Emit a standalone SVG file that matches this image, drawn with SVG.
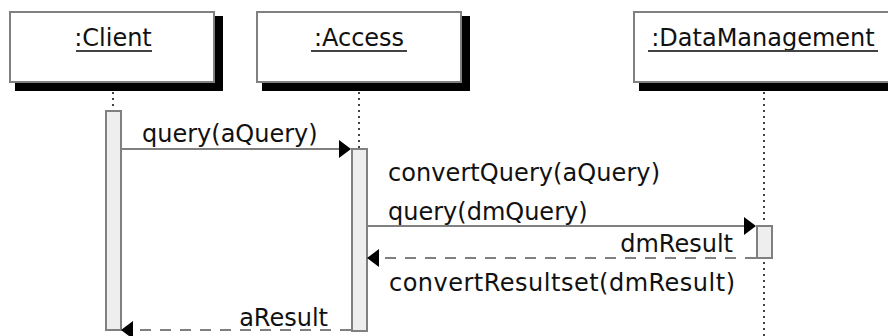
<svg xmlns="http://www.w3.org/2000/svg" width="888" height="336" viewBox="0 0 888 336">
<defs>
<style>
text{font-family:"DejaVu Sans",Verdana,sans-serif;font-size:24px;fill:#111}
.box{fill:#fff;stroke:#808080;stroke-width:2}
.shadow{fill:#000}
.ul{stroke:#444;stroke-width:2}
.life{stroke:#444;stroke-width:2;stroke-dasharray:2 4;fill:none}
.act{fill:#eeeeee;stroke:#808080;stroke-width:2}
.msg{stroke:#808080;stroke-width:2;fill:none}
.ret{stroke:#808080;stroke-width:2;fill:none;stroke-dasharray:11 9}
.head{fill:#000}
</style>
</defs>
<g id="client">
<rect class="shadow" x="15" y="16" width="208" height="75"/>
<rect class="box" x="10" y="12" width="204" height="70"/>
<text x="113" y="46" text-anchor="middle">:Client</text>
<line class="ul" x1="76" y1="51" x2="152" y2="51"/>
<line class="life" x1="113" y1="92" x2="113" y2="110"/>
<rect class="act" x="106" y="111" width="15" height="219"/>
</g>
<g id="access">
<rect class="shadow" x="262" y="16" width="208" height="75"/>
<rect class="box" x="257" y="12" width="204" height="70"/>
<text x="359" y="46" text-anchor="middle">:Access</text>
<line class="ul" x1="311" y1="51" x2="407" y2="51"/>
<line class="life" x1="359" y1="92" x2="359" y2="148"/>
<rect class="act" x="352" y="149" width="15" height="182"/>
</g>
<g id="datamanagement">
<rect class="shadow" x="639" y="16" width="262" height="75"/>
<rect class="box" x="634" y="12" width="258" height="70"/>
<text x="763" y="46" text-anchor="middle">:DataManagement</text>
<line class="ul" x1="648" y1="51" x2="878" y2="51"/>
<line class="life" x1="764" y1="92" x2="764" y2="224"/>
<line class="life" x1="764" y1="262" x2="764" y2="336"/>
<rect class="act" x="757" y="226" width="15" height="32"/>
</g>
<g id="connectors">
<line class="msg" x1="121" y1="149" x2="340" y2="149"/>
<polygon class="head" points="339,140 351,149 339,158"/>
<text x="142" y="142">query(aQuery)</text>
<text x="388" y="181" textLength="272" lengthAdjust="spacing">convertQuery(aQuery)</text>
<line class="msg" x1="367" y1="226" x2="745" y2="226"/>
<polygon class="head" points="744,217 756,226 744,235"/>
<text x="388" y="220">query(dmQuery)</text>
<line class="ret" x1="756" y1="258" x2="378" y2="258"/>
<polygon class="head" points="379,249 367,258 379,267"/>
<text x="733" y="252" text-anchor="end">dmResult</text>
<text x="389" y="291" textLength="346" lengthAdjust="spacing">convertResultset(dmResult)</text>
<line class="ret" x1="351" y1="330" x2="132" y2="330"/>
<polygon class="head" points="133,321 121,330 133,339"/>
<text x="328" y="326" text-anchor="end">aResult</text>
</g>
</svg>
